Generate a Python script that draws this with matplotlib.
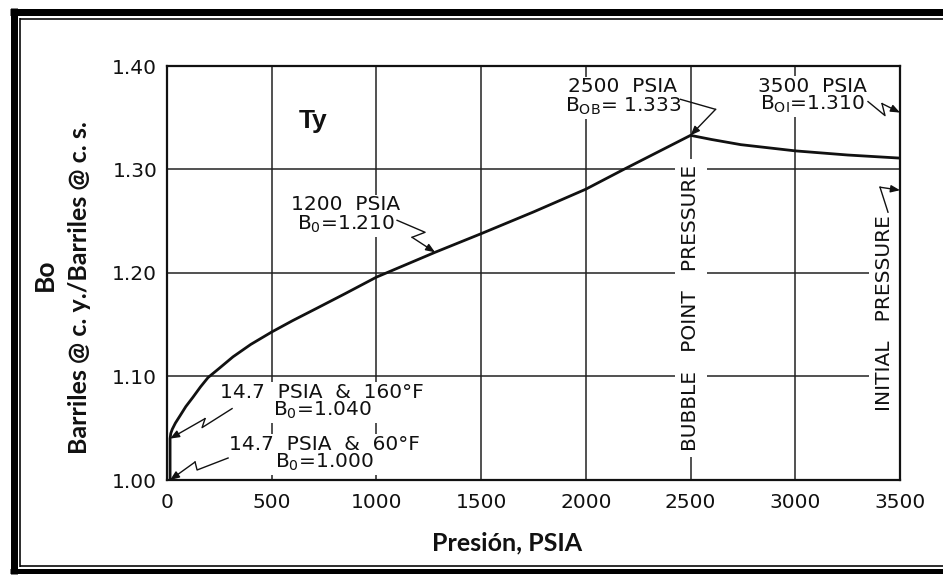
import matplotlib
matplotlib.use('Agg')
import matplotlib.pyplot as plt
from matplotlib.lines import Line2D
import numpy as np

# ---------------- data ----------------
pressure = [14.7, 14.7, 18, 25, 40, 62, 90, 124, 160, 196, 250, 315, 400, 500,
            600, 716, 850, 1000, 1140, 1280, 1500, 1750, 2000, 2180, 2500,
            2600, 2740, 3000, 3250, 3500]
bo = [1.000, 1.040, 1.045, 1.049, 1.055, 1.062, 1.071, 1.080, 1.090, 1.099,
      1.108, 1.119, 1.131, 1.143, 1.154, 1.166, 1.180, 1.196, 1.208, 1.220,
      1.238, 1.259, 1.281, 1.300, 1.333, 1.329, 1.324, 1.318, 1.314, 1.311]

x_ticks = [0, 500, 1000, 1500, 2000, 2500, 3000, 3500]
x_tick_labels = ['0', '500', '1000', '1500', '2000', '2500', '3000', '3500']
y_ticks = [1.00, 1.10, 1.20, 1.30, 1.40]
y_tick_labels = ['1.00', '1.10', '1.20', '1.30', '1.40']

# annotation targets (pressure, Bo)
ann_p = [1280, 2500, 3500, 3500, 14.7, 14.7]
ann_bo = [1.220, 1.333, 1.355, 1.280, 1.040, 1.000]

# ---------------- figure ----------------
W, H = 943, 575
fig = plt.figure(figsize=(W / 100, H / 100), dpi=100)
fig.patch.set_facecolor('white')

ax = fig.add_axes([167 / W, 1 - 480 / H, (900 - 167) / W, (480 - 66) / H])
ax.set_xlim(0, 3500)
ax.set_ylim(1.0, 1.4)
ax.set_xticks(x_ticks)
ax.set_xticklabels(x_tick_labels)
ax.set_yticks(y_ticks)
ax.set_yticklabels(y_tick_labels)
ax.tick_params(length=0, labelsize=14.5, colors='#111111')
ax.tick_params(axis='x', pad=9)
ax.tick_params(axis='y', pad=7)
ax.grid(True, color='#222222', lw=1.1)
ax.set_axisbelow(True)
for s in ax.spines.values():
    s.set_linewidth(1.6)
    s.set_color('#111111')
    s.set_zorder(3)

ax.plot(pressure, bo, color='#111111', lw=2.0, solid_capstyle='butt',
        solid_joinstyle='round', zorder=2.2)

txt_kw = dict(fontsize=14.5, color='#111111', family='DejaVu Sans',
              ha='center', va='center', zorder=2, linespacing=0.85,
              multialignment='center', clip_on=False,
              bbox=dict(boxstyle='square,pad=0.1', fc='white', ec='none'))


def ftext(x, y, s, **kw):
    d = dict(txt_kw)
    d.update(kw)
    return ax.text(x / W, 1 - y / H, s, transform=fig.transFigure, **d)


# point labels
ftext(346, 215, '1200  PSIA\n' + r'B$_\mathregular{0}$=1.210', linespacing=0.95)
ftext(623, 97, '2500  PSIA\n' + r'B$_\mathregular{OB}$= 1.333', linespacing=0.95)
ftext(812, 96, '3500  PSIA\n' + r'B$_\mathregular{OI}$=1.310', linespacing=0.9)
ftext(322, 402, '14.7  PSIA  &  160°F\n' + r'B$_\mathregular{0}$=1.040')
ftext(324, 454, '14.7  PSIA  &  60°F\n' + r'B$_\mathregular{0}$=1.000')

# vertical labels
ftext(691, 308, 'BUBBLE   POINT   PRESSURE', rotation=90,
      bbox=dict(boxstyle='square,pad=0.3', fc='white', ec='none'))
ftext(885, 313, 'INITIAL   PRESSURE', rotation=90,
      bbox=dict(boxstyle='square,pad=0.3', fc='white', ec='none'))

# "Ty"
fig.text(313 / W, 1 - 121 / H, 'Ty', fontsize=19, fontweight='bold',
         family='Liberation Sans', ha='center', va='center', color='#111111')

# axis labels
fig.text(45 / W, 1 - 275 / H, 'Bo', fontsize=19, fontweight='bold', family='Lato',
         rotation=90, ha='center', va='center', color='#111111')
fig.text(80 / W, 1 - 288 / H, 'Barriles @ c. y./Barriles @ c. s.', fontsize=18,
         fontweight='bold', family='Lato', rotation=90, ha='center', va='center',
         color='#111111')
fig.text(507 / W, 1 - 543 / H, 'Presión, PSIA', fontsize=18, fontweight='bold',
         family='Lato', ha='center', va='center', color='#111111')

# zig-zag leader arrows: offsets in pixels (dx, dy up) from the target
zig_offsets = [
    [(-38, 32), (-10, 20), (-23, 15)],
    [(-10, 36), (25, 26)],
    [(-32, 11), (-15, -3), (-18, 9)],
    [(-12, -22), (-20, 3)],
    [(62, 30), (32, 11), (35, 20)],
    [(58, 22), (27, 10), (25, 18)],
]
inv = ax.transData.inverted()
for p, b, offs in zip(ann_p, ann_bo, zig_offsets):
    tx, ty = ax.transData.transform((p, b))
    pts = [inv.transform((tx + dx, ty + dy)) for dx, dy in offs]
    xs = [q[0] for q in pts]
    ys = [q[1] for q in pts]
    ax.plot(xs, ys, color='#111111', lw=1.0, clip_on=False, zorder=4)
    ax.annotate('', xy=(p, b), xytext=(xs[-1], ys[-1]),
                arrowprops=dict(arrowstyle='-|>,head_length=0.55,head_width=0.22',
                                color='#111111', lw=1.0, shrinkA=0, shrinkB=0),
                annotation_clip=False, zorder=4)

# outer double frame (figure pixels)
def fline(x0, y0, x1, y1, lw_px):
    fig.add_artist(Line2D([x0 / W, x1 / W], [1 - y0 / H, 1 - y1 / H],
                          transform=fig.transFigure, color='black',
                          lw=lw_px * 0.72, solid_capstyle='butt'))

fline(10, 11.5, 943, 11.5, 7)
fline(20, 18.5, 943, 18.5, 1.6)
fline(13.5, 8, 13.5, 574, 7)
fline(20, 18, 20, 566.5, 1.6)
fline(10, 571, 943, 571, 5)
fline(20, 566, 943, 566, 1.6)

fig.savefig('out.png', dpi=100, facecolor='white')
